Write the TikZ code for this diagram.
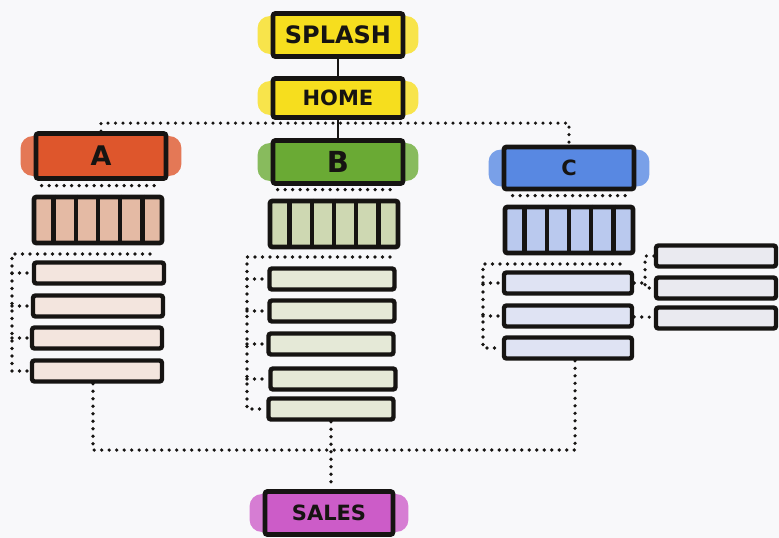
\documentclass[tikz,border=0pt]{standalone}
\usepackage{fontspec}
\setmainfont{DejaVu Sans}
\usetikzlibrary{calc,positioning,backgrounds}

\definecolor{pagebg}{RGB}{248,248,250}
\definecolor{ink}{RGB}{22,20,18}
\definecolor{splashyellow}{RGB}{246,222,30}
\definecolor{tabred}{RGB}{222,86,44}
\definecolor{tabgreen}{RGB}{106,170,52}
\definecolor{tabblue}{RGB}{88,136,226}
\definecolor{salespurple}{RGB}{204,92,200}
\definecolor{stripred}{RGB}{228,186,164}
\definecolor{stripgreen}{RGB}{206,216,178}
\definecolor{stripblue}{RGB}{186,201,238}
\definecolor{rowred}{RGB}{243,229,222}
\definecolor{rowgreen}{RGB}{229,233,215}
\definecolor{rowblue}{RGB}{223,227,243}
\definecolor{rowgrey}{RGB}{234,234,240}

\tikzset{
  box/.style={draw=ink, line width=4.8pt, rounded corners=2.5pt, inner sep=0pt, text=ink},
  header/.style={box, minimum width=130pt, minimum height=#1,
    font=\bfseries\fontsize{22}{22}\selectfont},
  strip/.style={box, minimum width=128pt, minimum height=46pt},
  row/.style={box, line width=4.4pt, minimum height=21pt},
  dots/.style={draw=ink, line width=3.6pt, line cap=round, dash pattern=on 0pt off 7.5pt},
}

\begin{document}
\begin{tikzpicture}[x=1pt,y=-1pt]
  \useasboundingbox (0,0) rectangle (779,538);

  % page headers
  \node[header=43pt, fill=splashyellow, font=\bfseries\fontsize{24}{24}\selectfont] (splash) at (338,35) {SPLASH};
  \node[header=39pt, fill=splashyellow, font=\bfseries\fontsize{21}{21}\selectfont] (home) at (338,98) {HOME};
  \node[header=45pt, fill=tabred, font=\bfseries\fontsize{27}{27}\selectfont] (a) at (101,156) {A};
  \node[header=43pt, fill=tabgreen, font=\bfseries\fontsize{29}{29}\selectfont] (b) at (338,162) {B};
  \node[header=42pt, fill=tabblue, font=\bfseries\fontsize{21}{21}\selectfont] (c) at (569,168) {C};
  \node[header=43pt, minimum width=128pt, fill=salespurple, font=\bfseries\fontsize{21}{21}\selectfont] (sales) at (329,513) {SALES};

  % strips of cells
  \node[strip, fill=stripred] (astrip) at (98,220) {};
  \node[strip, fill=stripgreen] (bstrip) at (334,224) {};
  \node[strip, fill=stripblue] (cstrip) at (569,230) {};
  \foreach \s in {astrip,bstrip,cstrip}
    \foreach \i in {1,...,5}
      \draw[ink, line width=4.5pt] ($(\s.north west)!\i/6!(\s.north east)$) -- ($(\s.south west)!\i/6!(\s.south east)$);

  % rows
  \node[row, minimum width=130pt, fill=rowred] (a1) at (99,273) {};
  \node[row, minimum width=130pt, fill=rowred] (a2) at (98,306) {};
  \node[row, minimum width=130pt, fill=rowred] (a3) at (97,338) {};
  \node[row, minimum width=130pt, fill=rowred] (a4) at (97,371) {};
  \node[row, minimum width=125pt, fill=rowgreen] (b1) at (332,279) {};
  \node[row, minimum width=125pt, fill=rowgreen] (b2) at (332,311) {};
  \node[row, minimum width=125pt, fill=rowgreen] (b3) at (331,344) {};
  \node[row, minimum width=125pt, fill=rowgreen] (b4) at (333,379) {};
  \node[row, minimum width=125pt, fill=rowgreen] (b5) at (331,409) {};
  \node[row, minimum width=128pt, fill=rowblue] (c1) at (568,283) {};
  \node[row, minimum width=128pt, fill=rowblue] (c2) at (568,316) {};
  \node[row, minimum width=128pt, fill=rowblue] (c3) at (568,348) {};
  \node[row, minimum width=120pt, fill=rowgrey] (d1) at (716,256) {};
  \node[row, minimum width=120pt, fill=rowgrey] (d2) at (716,288) {};
  \node[row, minimum width=120pt, fill=rowgrey] (d3) at (716,318) {};

  % marker smudges and paper
  \begin{scope}[on background layer]
    \fill[pagebg] (0,0) rectangle (779,538);
    \foreach \n/\col in {splash/splashyellow,home/splashyellow,a/tabred,b/tabgreen,c/tabblue,sales/salespurple}
      \fill[\col!80!white, rounded corners=12pt] ([xshift=-13pt,yshift=5pt]\n.south west) rectangle ([xshift=13pt,yshift=-5pt]\n.north east);
  \end{scope}

  % links
  \draw[ink, line width=1.4pt] (splash) -- (home);
  \draw[ink, line width=1.4pt] (home) -- (b);
  \draw[dots] (a.north) -- ++(0,-8) -| (c.north);
  \foreach \s in {astrip,bstrip,cstrip}
    \draw[dots] ([xshift=10pt,yshift=9pt]\s.north west) -- ([xshift=-10pt,yshift=9pt]\s.north east);

  \coordinate (atop) at (150,254);
  \coordinate (aspine) at (12,254);
  \draw[dots] (atop) -- (aspine) |- (a4);
  \foreach \i in {1,2,3}
    \draw[dots] (a\i -| aspine) -- (a\i);

  \coordinate (btop) at (390,257);
  \coordinate (bspine) at (247,257);
  \draw[dots] (btop) -- (bspine) |- (b5);
  \foreach \i in {1,...,4}
    \draw[dots] (b\i -| bspine) -- (b\i);

  \coordinate (ctop) at (620,264);
  \coordinate (cspine) at (483,264);
  \draw[dots] (ctop) -- (cspine) |- (c3);
  \foreach \i in {1,2}
    \draw[dots] (c\i -| cspine) -- (c\i);

  \coordinate (dspine) at (645,256);
  \draw[dots] (d1) -- (d1 -| dspine) -- (d2 -| dspine) -- (d2);
  \draw[dots] (c1) -- (c1 -| dspine);
  \draw[dots] (c2) -- (d3);

  \coordinate (salesbus) at (330,450);
  \draw[dots] ([xshift=-4pt]a4.south) |- (salesbus) -| ([xshift=7pt]c3.south);
  \draw[dots] (b5.south) -- (b5.south |- sales.north);
\end{tikzpicture}
\end{document}
